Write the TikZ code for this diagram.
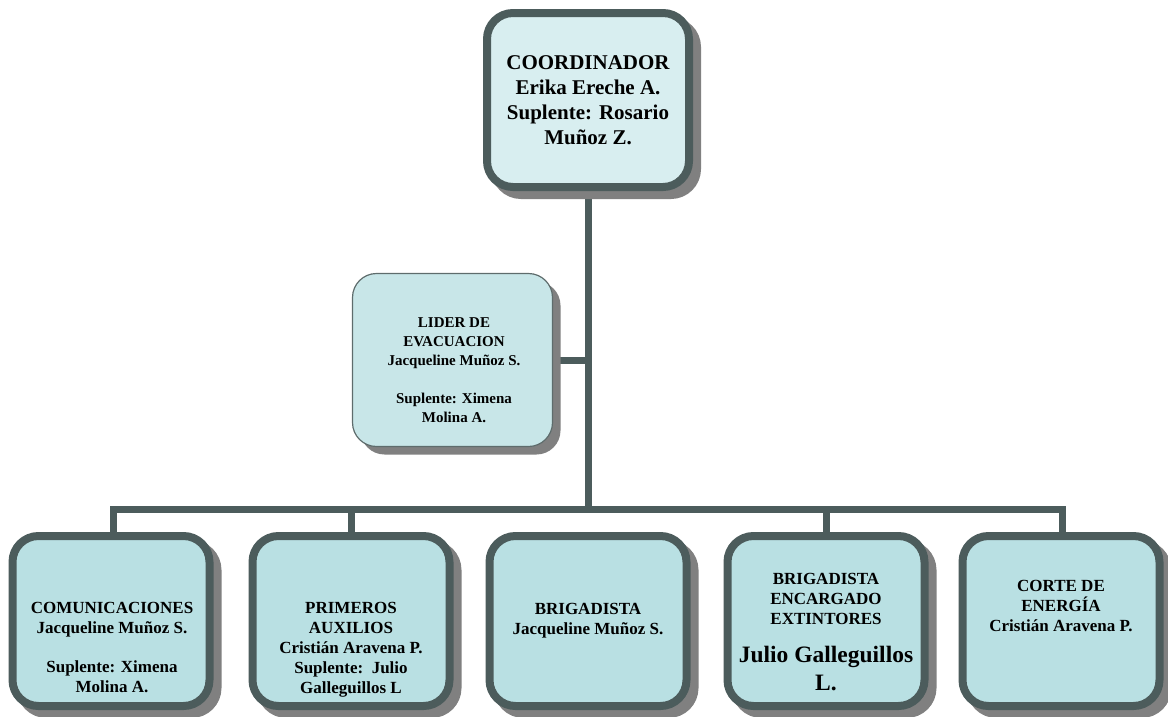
\documentclass[tikz,border=0pt]{standalone}
\usepackage{fontspec}
\setmainfont{Liberation Serif}
\definecolor{bordc}{HTML}{4C5C5C}
\definecolor{topfill}{HTML}{D8EEF0}
\definecolor{lidfill}{HTML}{C8E6E8}
\definecolor{botfill}{HTML}{B9E0E3}
\definecolor{shgray}{HTML}{808080}
\tikzset{
  bigbox/.style={rectangle, rounded corners=26pt, draw=bordc, line width=8pt, inner sep=0pt},
  botbox/.style={bigbox, fill=botfill, minimum width=197pt, minimum height=170pt},
  topbox/.style={bigbox, fill=topfill, minimum width=202pt, minimum height=174pt},
  lidbox/.style={rectangle, rounded corners=24pt, draw=bordc!90, line width=1.2pt, fill=lidfill, minimum width=200pt, minimum height=173pt, inner sep=0pt},
  shbig/.style={rectangle, rounded corners=26pt, draw=shgray, fill=shgray, line width=8pt, inner sep=0pt},
  conn/.style={draw=bordc, line width=7pt},
  txt/.style={align=center, font=\bfseries\fontsize{17}{20}\selectfont, inner sep=0pt},
}
\begin{document}
\begin{tikzpicture}[x=1pt,y=-1pt]
\useasboundingbox (0,0) rectangle (1168,716);
\coordinate (bus) at (588,509);
\coordinate (lj) at (588,360);
\coordinate (busl) at (113,509);
\coordinate (busr) at (1062,509);
% connectors
\coordinate (topc) at (588,100);
\draw[conn] (topc) -- (bus);
\draw[conn] (452,360) -- (lj);
\draw[conn] (113,621) -- (busl) -- (busr) -- (1062,621);
\draw[conn] (351,621) -- (351,509);
\draw[conn] (826,621) -- (826,509);
% shadows
\node[shbig, minimum width=202pt, minimum height=174pt] (s0) at (596,108) {};
\node[rectangle, rounded corners=24pt, fill=shgray, minimum width=200pt, minimum height=173pt, inner sep=0pt] (sl) at (460.5,368) {};
\foreach \cx/\nm in {111/s1,351/s2,588/s3,826/s4,1061/s5}{
  \node[shbig, minimum width=197pt, minimum height=170pt] (\nm) at (\cx+8,629) {};
}
% boxes
\node[topbox] (top) at (588,100) {};
\node[lidbox] (lid) at (452.5,360) {};
\node[botbox] (b1) at (111,621) {};
\node[botbox] (b2) at (351,621) {};
\node[botbox] (b3) at (588,621) {};
\node[botbox] (b4) at (826,621) {};
\node[botbox] (b5) at (1061,621) {};
% texts
\node[txt, font=\bfseries\fontsize{21}{25}\selectfont] (ttop) at (588,100) {COORDINADOR\\Erika Ereche A.\\Suplente: Rosario\\Muñoz Z.};
\node[txt, font=\bfseries\fontsize{15}{19}\selectfont] (tlid) at (454,370.5) {LIDER DE\\EVACUACION\\Jacqueline Muñoz S.\\[19pt]Suplente: Ximena\\Molina A.};
\node[txt] (t1) at (112,647) {COMUNICACIONES\\Jacqueline Muñoz S.\\[19pt]Suplente: Ximena\\Molina A.};
\node[txt] (t2) at (351,650) {PRIMEROS\\AUXILIOS\\Cristián Aravena P.\\Suplente:\ \ Julio\\Galleguillos L};
\node[txt] (t3) at (588,621) {BRIGADISTA\\Jacqueline Muñoz S.};
\node[txt] (t4) at (826,632) {BRIGADISTA\\ENCARGADO\\EXTINTORES\\[18pt]{\fontsize{23.5}{27}\selectfont Julio Galleguillos}\\[6pt]{\fontsize{23.5}{27}\selectfont L.}};
\node[txt] (t5) at (1061,606) {CORTE DE\\ENERGÍA\\Cristián Aravena P.};
\end{tikzpicture}
\end{document}
